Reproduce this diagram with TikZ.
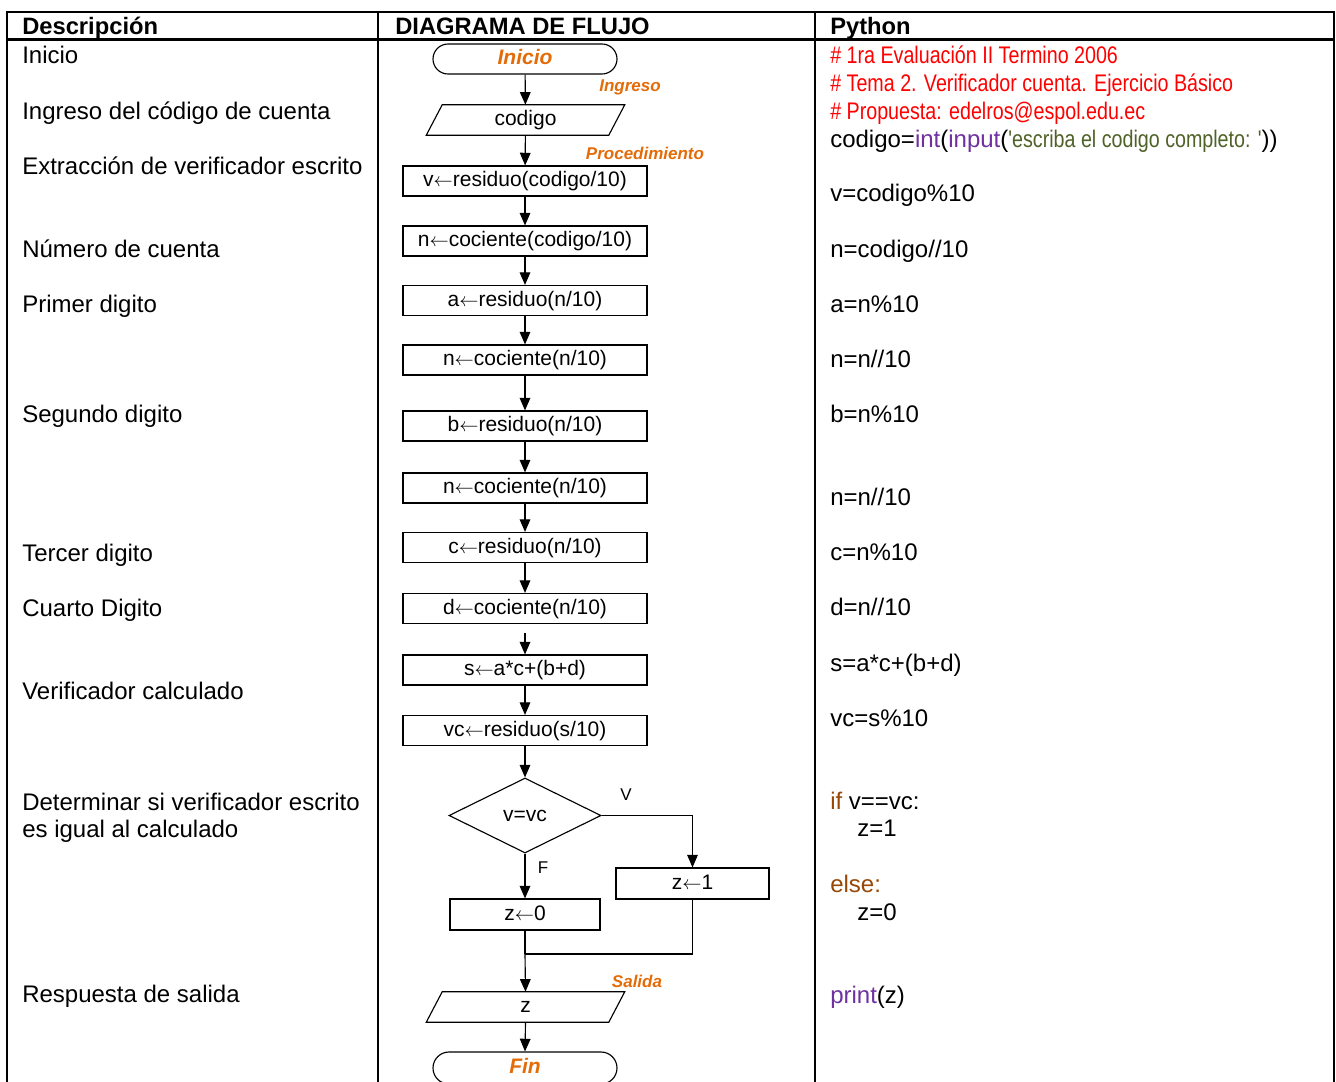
\documentclass[tikz,border=0pt]{standalone}
\usepackage{fontspec}
\setmainfont{Liberation Sans}
\newfontfamily\narrowfont[FakeStretch=0.82]{Liberation Sans}
\usetikzlibrary{arrows.meta,shapes.geometric,shapes.misc}
\definecolor{labelorange}{HTML}{E36C09}
\definecolor{cmtred}{HTML}{FF0000}
\definecolor{kwpurple}{HTML}{7030A0}
\definecolor{strgreen}{HTML}{4F6228}
\definecolor{kwbrown}{HTML}{984806}
\newcommand\fsA{\fontsize{18pt}{21pt}\selectfont}
\newcommand\fsB{\fontsize{15.75pt}{18pt}\selectfont}
\newcommand\fsC{\fontsize{12.75pt}{15pt}\selectfont}
\newcommand\fsH{\fontsize{17.8pt}{20pt}\selectfont\bfseries}
\newcommand\asg{\ensuremath{\leftarrow}}
\begin{document}
\begin{tikzpicture}[x=0.75pt,y=-0.75pt,
  grid/.style={line width=2pt},
  desc/.style={anchor=base west,inner sep=0,font=\fsA},
  code/.style={anchor=base west,inner sep=0,font=\fsA},
  head/.style={anchor=base west,inner sep=0,font=\fsH},
  proc/.style={draw,line width=0.85pt,rectangle,minimum width=183pt,minimum height=22.5pt,inner sep=0,font=\fsB,text height=11.5pt,text depth=3.2pt},
  term/.style={draw,line width=0.85pt,rounded rectangle,minimum width=138pt,minimum height=22.5pt,inner sep=0,font=\fsB\bfseries\itshape,text=labelorange,text height=11.5pt,text depth=3.2pt},
  io/.style={minimum width=136.5pt,minimum height=22.5pt,inner sep=0,font=\fsB,text height=11.5pt,text depth=3.2pt},
  flow/.style={line width=0.85pt,-{Triangle[length=9.5pt,width=8pt]}},
  link/.style={line width=0.85pt},
  tag/.style={font=\fsC\bfseries\itshape,text=labelorange,inner sep=0},
  branch/.style={font=\fsC,inner sep=0}]
\useasboundingbox (0,0) rectangle (1336,1082);
\clip (0,0) rectangle (1336,1082);
\fill[white] (0,0) rectangle (1336,1082);

% table
\draw[grid] (7,1090) -- (7,12) -- (1334,12) -- (1334,1090);
\draw[grid] (7,39.5) -- (1334,39.5);
\draw[grid] (378,12) -- (378,1090);
\draw[grid] (815,12) -- (815,1090);

% headers
\node[head] (h1) at (22,34.5) {Descripción};
\node[head] (h2) at (395,34.5) {DIAGRAMA DE FLUJO};
\node[head] (h3) at (830,34.5) {Python};

% descriptions
\node[desc] (d1) at (22,63) {Inicio};
\node[desc] (d2) at (22,119) {Ingreso del código de cuenta};
\node[desc] (d3) at (22,174) {Extracción de verificador escrito};
\node[desc] (d4) at (22,257) {Número de cuenta};
\node[desc] (d5) at (22,312) {Primer digito};
\node[desc] (d6) at (22,422) {Segundo digito};
\node[desc] (d7) at (22,561) {Tercer digito};
\node[desc] (d8) at (22,616) {Cuarto Digito};
\node[desc] (d9) at (22,699) {Verificador calculado};
\node[desc] (d10) at (22,810) {Determinar si verificador escrito};
\node[desc] (d11) at (22,837) {es igual al calculado};
\node[desc] (d12) at (22,1002) {Respuesta de salida};

% python
\node[code,text=cmtred] (c1) at (830,63) {\narrowfont \# 1ra Evaluación II Termino 2006};
\node[code,text=cmtred] (c2) at (830,91) {\narrowfont \# Tema 2. Verificador cuenta. Ejercicio Básico};
\node[code,text=cmtred] (c3) at (830,119) {\narrowfont \# Propuesta: edelros@espol.edu.ec};
\node[code] (c4) at (830,147) {codigo=\textcolor{kwpurple}{int}(\textcolor{kwpurple}{input}(\textcolor{strgreen}{\narrowfont 'escriba el codigo completo: '}))};
\node[code] (c5) at (830,201) {v=codigo\%10};
\node[code] (c6) at (830,257) {n=codigo//10};
\node[code] (c7) at (830,312) {a=n\%10};
\node[code] (c8) at (830,367) {n=n//10};
\node[code] (c9) at (830,422) {b=n\%10};
\node[code] (c10) at (830,505) {n=n//10};
\node[code] (c11) at (830,560) {c=n\%10};
\node[code] (c12) at (830,615) {d=n//10};
\node[code] (c13) at (830,671) {s=a*c+(b+d)};
\node[code] (c14) at (830,726) {vc=s\%10};
\node[code] (c15) at (830,809) {\textcolor{kwbrown}{if} v==vc:};
\node[code] (c16) at (857,836) {z=1};
\node[code] (c17) at (830,892) {\textcolor{kwbrown}{else:}};
\node[code] (c18) at (857,920) {z=0};
\node[code] (c19) at (830,1003) {\textcolor{kwpurple}{print}(z)};

% flowchart
\node[term] (ini) at (525,59) {Inicio};
\node[io] (in) at (525.5,120) {codigo};
\draw[link] ([xshift=6pt]in.north west) -- ([xshift=6pt]in.north east) -- ([xshift=-6pt]in.south east) -- ([xshift=-6pt]in.south west) -- cycle;
\node[proc] (p1) at (525,181) {v\asg residuo(codigo/10)};
\node[proc] (p2) at (525,241) {n\asg cociente(codigo/10)};
\node[proc] (p3) at (525,300.5) {a\asg residuo(n/10)};
\node[proc] (p4) at (525,360) {n\asg cociente(n/10)};
\node[proc] (p5) at (525,426) {b\asg residuo(n/10)};
\node[proc] (p6) at (525,488) {n\asg cociente(n/10)};
\node[proc] (p7) at (525,547.5) {c\asg residuo(n/10)};
\node[proc] (p8) at (525,608.5) {d\asg cociente(n/10)};
\node[proc] (p9) at (525,670) {s\asg a*c+(b+d)};
\node[proc] (p10) at (525,730.5) {vc\asg residuo(s/10)};
\node[draw,diamond,aspect=2,line width=0.85pt,minimum width=114pt,minimum height=56.25pt,inner sep=0,font=\fsB] (dec) at (525,815.5) {v=vc};
\node[proc,minimum width=114.75pt,minimum height=23.25pt] (z1) at (692.5,883.5) {z\asg 1};
\node[proc,minimum width=112.5pt,minimum height=23.25pt] (z0) at (525,914.5) {z\asg 0};
\node[io] (out) at (525.5,1007) {z};
\draw[link] ([xshift=6pt]out.north west) -- ([xshift=6pt]out.north east) -- ([xshift=-6pt]out.south east) -- ([xshift=-6pt]out.south west) -- cycle;
\node[term,minimum height=24pt] (fin) at (525,1068) {Fin};

% labels
\node[tag] (l1) at (630,87) {Ingreso};
\node[tag] (l2) at (645,153) {Procedimiento};
\node[tag] (l3) at (637,981) {Salida};
\node[branch] (lv) at (626,795) {V};
\node[branch] (lf) at (543,868) {F};

% connectors
\draw[flow] (ini) -- (in);
\draw[flow] (in) -- (p1);
\draw[flow] (p1) -- (p2);
\draw[flow] (p2) -- (p3);
\draw[flow] (p3) -- (p4);
\draw[flow] (p4) -- (p5);
\draw[flow] (p5) -- (p6);
\draw[flow] (p6) -- (p7);
\draw[flow] (p7) -- (p8);
\coordinate (gap) at (525,633);
\draw[flow] (gap) -- (p9);
\draw[flow] (p9) -- (p10);
\draw[flow] (p10) -- (dec);
\draw[flow] (dec.east) -| (z1.north);
\draw[flow] (dec.south) -- (z0.north);
\coordinate (merge) at (525,954);
\draw[link] (z0.south) -- (merge);
\draw[link] (z1.south) |- (merge);
\draw[flow] (merge) -- (out.north);
\draw[flow] (out.south) -- (fin.north);
\end{tikzpicture}
\end{document}
